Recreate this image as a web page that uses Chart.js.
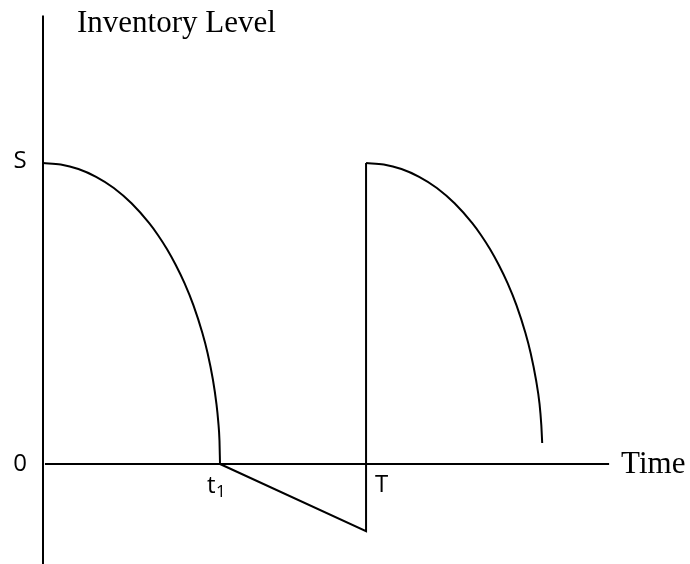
<!DOCTYPE html>
<html>
<head>
<meta charset="utf-8">
<script src="https://cdn.jsdelivr.net/npm/chart.js@4.4.0/dist/chart.umd.min.js"></script>
<style>
  body { margin: 0; background: #fff; }
  canvas { display: block; }
</style>
</head>
<body>
<canvas id="chart" width="690" height="564"></canvas>
<script>
// tempo em unidades de t1, nivel em unidades de S
const t1 = 1.0;
const T = 1.825;
const S = 1.0;
const faltaMax = -0.223;

// primeiro ciclo: de S ate zero em t1
const ciclo1X = [0, 0.1, 0.2, 0.3, 0.4, 0.5, 0.6, 0.65, 0.7, 0.75, 0.8, 0.85, 0.9, 0.93, 0.96, 0.98, 0.99, 0.997, 1.0];
const ciclo1Y = [1, 0.995, 0.98, 0.954, 0.917, 0.866, 0.8, 0.76, 0.714, 0.661, 0.6, 0.527, 0.436, 0.368, 0.28, 0.199, 0.141, 0.077, 0];

// segundo ciclo: comeca em T, corta antes de zerar
const ciclo2X = [1.825, 1.925, 2.025, 2.125, 2.225, 2.325, 2.425, 2.475, 2.525, 2.575, 2.625, 2.675, 2.725, 2.755, 2.785, 2.805, 2.815, 2.82];
const ciclo2Y = [1, 0.995, 0.98, 0.954, 0.917, 0.866, 0.8, 0.76, 0.714, 0.661, 0.6, 0.527, 0.436, 0.368, 0.28, 0.2, 0.13, 0.07];

// eixos
const eixoTempo = [0.011, 3.198];
const eixoNivel = [-0.332, 1.49];

const pontos = (xs, ys) => xs.map((x, i) => ({ x: x, y: ys[i] }));

const base = { borderColor: '#000', borderWidth: 2, pointRadius: 0, fill: false, clip: false };

const sans = px => px + 'px "Open Sans", "Liberation Sans", sans-serif';

const rotulos = {
  id: 'rotulos',
  afterDraw(chart) {
    const ctx = chart.ctx;
    const sx = chart.scales.x, sy = chart.scales.y;
    const x0 = sx.getPixelForValue(0);
    const y0 = sy.getPixelForValue(0);
    ctx.save();
    ctx.fillStyle = '#000';
    ctx.textBaseline = 'alphabetic';

    ctx.font = '31px "Liberation Serif", "Times New Roman", serif';
    ctx.textAlign = 'left';
    ctx.fillText('Inventory Level', x0 + 34, 32);
    ctx.fillText('Time', sx.getPixelForValue(eixoTempo[1]) + 12, y0 + 9);

    ctx.font = sans(24);
    ctx.textAlign = 'center';
    ctx.textBaseline = 'middle';
    ctx.fillText('S', 20, sy.getPixelForValue(S) - 2);
    ctx.fillText('0', 20, y0);

    ctx.textAlign = 'left';
    ctx.textBaseline = 'alphabetic';
    ctx.fillText('t', sx.getPixelForValue(t1) - 13, y0 + 29);
    ctx.font = sans(17);
    ctx.fillText('1', sx.getPixelForValue(t1) - 4, y0 + 33);
    ctx.font = sans(24);
    ctx.fillText('T', sx.getPixelForValue(T) + 9, y0 + 28);
    ctx.restore();
  }
};

new Chart(document.getElementById('chart').getContext('2d'), {
  type: 'line',
  data: {
    datasets: [
      { ...base, data: pontos(eixoTempo, [0, 0]) },
      { ...base, data: pontos([0, 0], eixoNivel) },
      { ...base, data: pontos(ciclo1X, ciclo1Y), cubicInterpolationMode: 'monotone' },
      { ...base, data: [{ x: t1, y: 0 }, { x: T, y: faltaMax }, { x: T, y: S }] },
      { ...base, data: pontos(ciclo2X, ciclo2Y), cubicInterpolationMode: 'monotone' }
    ]
  },
  options: {
    responsive: false,
    animation: false,
    layout: { padding: 0 },
    plugins: { legend: { display: false }, tooltip: { enabled: false } },
    scales: {
      x: { type: 'linear', display: false, min: -0.2429, max: 3.655 },
      y: { type: 'linear', display: false, min: -0.3322, max: 1.5415 }
    }
  },
  plugins: [rotulos]
});
</script>
</body>
</html>
